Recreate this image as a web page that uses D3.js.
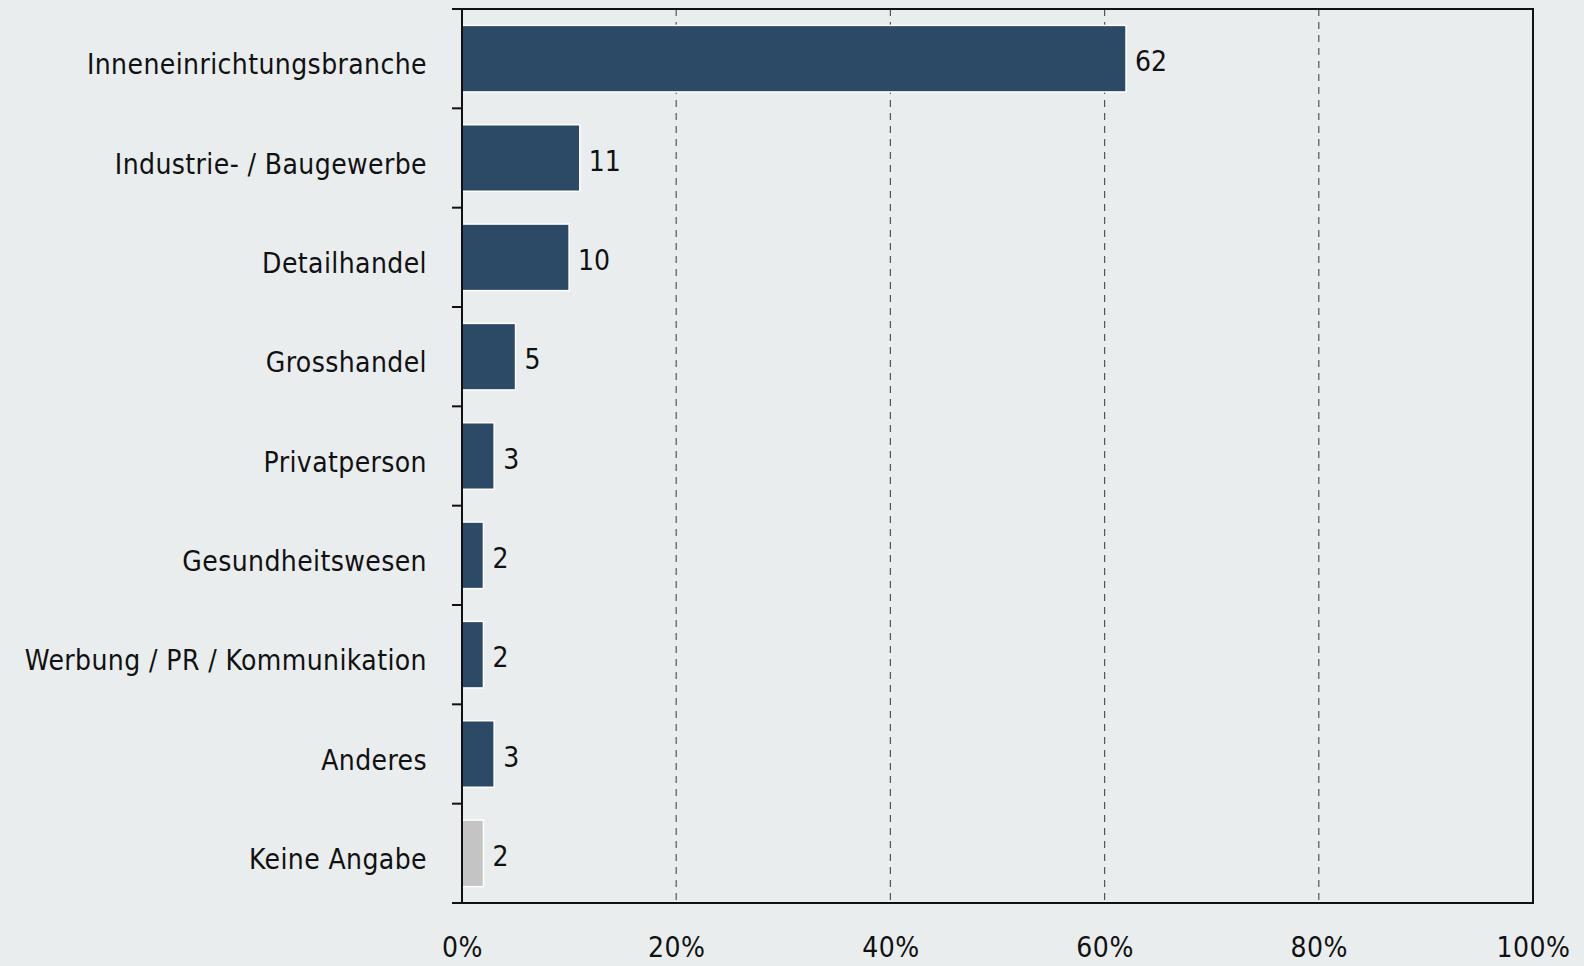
<!DOCTYPE html>
<html><head><meta charset="utf-8">
<script src="https://cdn.jsdelivr.net/npm/d3@7"></script>
<style>
html,body{margin:0;padding:0;background:#E9EDEE;}
svg{display:block;}
text{font-family:"DejaVu Sans Condensed","DejaVu Sans",sans-serif;fill:#111;}
</style></head>
<body><svg id="c" width="1584" height="966"></svg>
<script>
const categories = ["Inneneinrichtungsbranche","Industrie- / Baugewerbe","Detailhandel","Grosshandel","Privatperson","Gesundheitswesen","Werbung / PR / Kommunikation","Anderes","Keine Angabe"];
const values = [62, 11, 10, 5, 3, 2, 2, 3, 2];
const noAnswer = [false,false,false,false,false,false,false,false,true];
const xTicks = [0, 20, 40, 60, 80, 100];
const gridTicks = [20, 40, 60, 80];

const svg = d3.select("#c");
const pLeft = 462, pRight = 1533, pTop = 9, pBottom = 903;
const fs = 28;

const x = d3.scaleLinear().domain([0,100]).range([pLeft,pRight]);
const y = d3.scaleBand().domain(categories).range([pTop,pBottom]).paddingInner(0.33).paddingOuter(0.165);

// grid
svg.append("g").selectAll("line").data(gridTicks).join("line")
  .attr("x1",d=>x(d)).attr("x2",d=>x(d)).attr("y1",pTop).attr("y2",pBottom)
  .attr("stroke","#555").attr("stroke-width",1.2).attr("stroke-dasharray","7,6");

// bars
svg.append("g").selectAll("rect").data(categories).join("rect")
  .attr("x",x(0)).attr("y",d=>y(d))
  .attr("width",(d,i)=>x(values[i])-x(0)).attr("height",y.bandwidth())
  .attr("fill",(d,i)=>noAnswer[i]?"#C4C4C4":"#2C4A66")
  .attr("stroke","#fff").attr("stroke-width",1.5);

// value labels
svg.append("g").selectAll("text").data(categories).join("text")
  .attr("x",(d,i)=>x(values[i])+9).attr("y",d=>y(d)+y.bandwidth()/2)
  .attr("dy","0.45em").attr("font-size",fs).text((d,i)=>values[i]);

// frame
svg.append("rect").attr("x",pLeft).attr("y",pTop).attr("width",pRight-pLeft).attr("height",pBottom-pTop)
  .attr("fill","none").attr("stroke","#111").attr("stroke-width",2);

// left axis
const yAxis = d3.axisLeft(y).tickSize(0).tickPadding(35);
const ga = svg.append("g").attr("transform",`translate(${pLeft},0)`).call(yAxis);
ga.attr("font-family",null).attr("font-size",null);
ga.select(".domain").remove();
ga.selectAll("text").attr("font-size",fs).attr("fill","#111").attr("dy","0.56em")
  .style("letter-spacing","0.4px");
const bounds = categories.map(c=>y(c)-y.step()*y.paddingInner()/2).concat([pBottom]);
svg.append("g").selectAll("line").data(bounds).join("line")
  .attr("x1",pLeft-10).attr("x2",pLeft).attr("y1",d=>d).attr("y2",d=>d)
  .attr("stroke","#111").attr("stroke-width",2);

// bottom axis labels
const xAxis = d3.axisBottom(x).tickValues(xTicks).tickSize(0).tickPadding(0).tickFormat(d=>d+"%");
const gx = svg.append("g").attr("transform",`translate(0,${pBottom})`).call(xAxis);
gx.attr("font-family",null).attr("font-size",null);
gx.select(".domain").remove();
gx.selectAll("text").attr("font-size",fs).attr("fill","#111").attr("y",54).attr("dy",null)
  .style("letter-spacing","0.5px");
</script></body></html>
